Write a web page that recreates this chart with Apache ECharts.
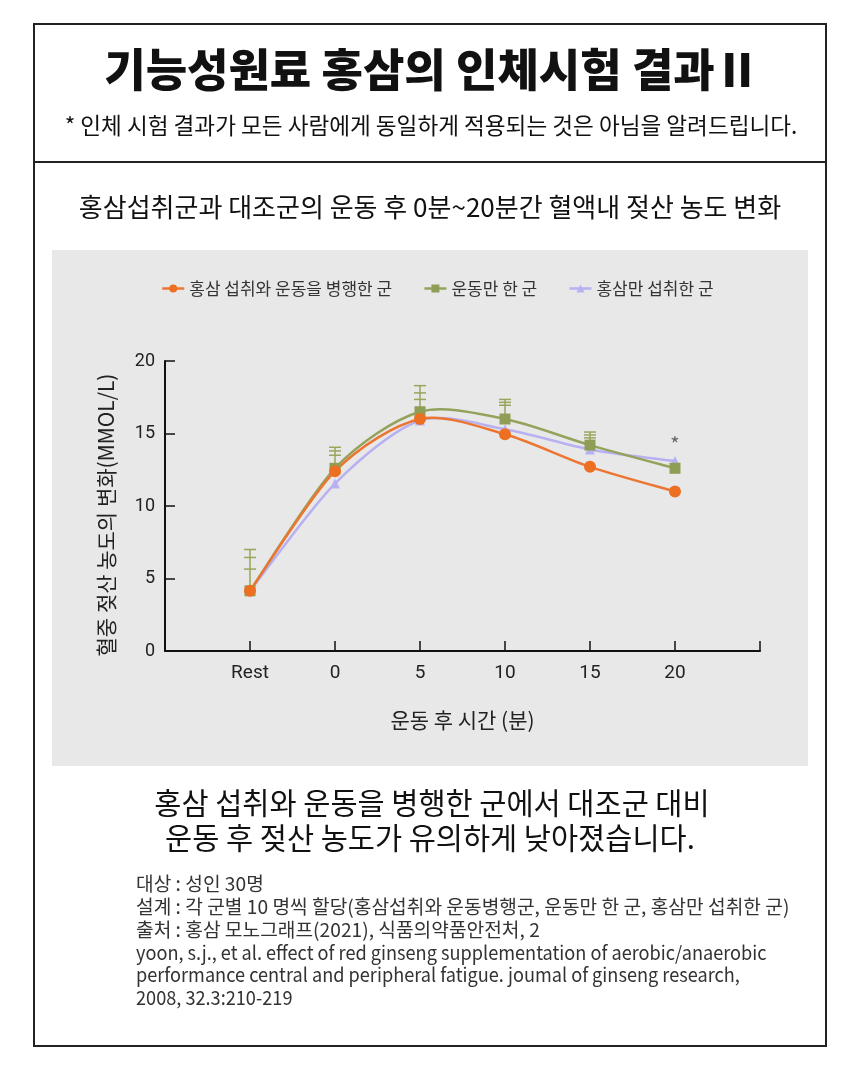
<!DOCTYPE html>
<html>
<head>
<meta charset="utf-8">
<script src="https://cdn.jsdelivr.net/npm/echarts/dist/echarts.min.js"></script>
<style>
  html, body { margin: 0; padding: 0; background: #fff; }
  #main { width: 860px; height: 1079px; }
</style>
</head>
<body>
<div id="main"></div>
<script>
// 측정 시점
var times = ['Rest', '0', '5', '10', '15', '20'];
var groupNames = ['홍삼 섭취와 운동을 병행한 군', '운동만 한 군', '홍삼만 섭취한 군'];
var groupColors = ['#ec7631', '#94a35c', '#b7b1f2'];

// 젖산 농도 (mmol/L)
var ginsengExercise = [4.15, 12.4, 16.0, 14.95, 12.7, 11.0];
var exerciseOnly = [4.15, 12.6, 16.5, 16.0, 14.2, 12.6];
var ginsengOnly = [4.15, 11.55, 15.9, 15.3, 13.9, 13.1];

// 오차막대 윗끝
var errTopA = [7.0, 14.05, 18.3, 17.35, 15.1, null];
var errTopB = [6.45, 13.8, 17.8, 17.15, 14.9, null];
var errTopC = [5.65, 13.5, 17.35, 16.95, 14.7, null];

var yTicks = [0, 5, 10, 15, 20];

var FONT = "'Noto Sans CJK KR', sans-serif";
var NUM_FONT = "Roboto, 'Noto Sans CJK KR', sans-serif";
var categories = [''].concat(times).concat(['']);

function pairs(vals) {
  return times.map(function (t, i) { return [t, vals[i]]; });
}

var errRows = [];
times.forEach(function (t, i) {
  if (errTopA[i] != null) errRows.push([t, exerciseOnly[i], errTopA[i], errTopB[i], errTopC[i]]);
});

var purpleData = pairs(ginsengOnly);
purpleData[purpleData.length - 1] = {
  value: purpleData[purpleData.length - 1],
  label: { show: true, formatter: '*', position: 'top', distance: 2, color: '#666', fontSize: 20, fontFamily: FONT }
};

var chart = echarts.init(document.getElementById('main'));

function txt(x, y, text, size, opts) {
  opts = opts || {};
  return {
    type: 'text', x: x, y: y, scaleX: opts.scaleX || 1, z: 5,
    style: {
      x: 0, y: 0, text: text, fontSize: size, fontFamily: opts.font || FONT,
      fontWeight: opts.weight || 'normal', fill: opts.color || '#111',
      align: opts.align || 'center', verticalAlign: 'middle',
      textAlign: opts.align || 'center', textVerticalAlign: 'middle'
    }
  };
}

// 엑셀식 부드러운 곡선 (Catmull-Rom), 좌표는 축 스케일로 변환
function curveSeries(vals, color, z) {
  var k = 7;
  return {
    type: 'custom',
    name: 'curve',
    z: z,
    silent: true,
    data: pairs(vals),
    renderItem: function (params, api) {
      var i = params.dataIndex;
      var n = vals.length;
      if (i >= n - 1) return;
      var P = function (j) {
        j = Math.max(0, Math.min(n - 1, j));
        return api.coord([j + 1, vals[j]]);
      };
      var p0 = P(i - 1), p1 = P(i), p2 = P(i + 1), p3 = P(i + 2);
      return {
        type: 'bezierCurve',
        shape: {
          x1: p1[0], y1: p1[1], x2: p2[0], y2: p2[1],
          cpx1: p1[0] + (p2[0] - p0[0]) / k, cpy1: p1[1] + (p2[1] - p0[1]) / k,
          cpx2: p2[0] - (p3[0] - p1[0]) / k, cpy2: p2[1] - (p3[1] - p1[1]) / k
        },
        style: { stroke: color, lineWidth: 2.5, fill: null }
      };
    }
  };
}

var notes = [
  '대상 : 성인 30명',
  '설계 : 각 군별 10 명씩 할당(홍삼섭취와 운동병행군, 운동만 한 군, 홍삼만 섭취한 군)',
  '출처 : 홍삼 모노그래프(2021), 식품의약품안전처, 2'
];
var refs = [
  'yoon, s.j., et al. effect of red ginseng supplementation of aerobic/anaerobic',
  'performance central and peripheral fatigue. joumal of ginseng research,',
  '2008, 32.3:210-219'
];

var graphics = [
  { type: 'rect', z: -1, shape: { x: 34, y: 24, width: 792, height: 1022 }, style: { fill: '#fff', stroke: '#222', lineWidth: 2 } },
  { type: 'line', z: -1, shape: { x1: 34, y1: 162, x2: 826, y2: 162 }, style: { stroke: '#222', lineWidth: 2 } },
  { type: 'rect', z: -1, shape: { x: 52, y: 250, width: 756, height: 516 }, style: { fill: '#e8e8e8' } },
  txt(432, 70, '기능성원료 홍삼의 인체시험 결과Ⅱ', 45, { weight: 900, color: '#111' }),
  txt(431, 125, '* 인체 시험 결과가 모든 사람에게 동일하게 적용되는 것은 아님을 알려드립니다.', 22.6),
  txt(430, 207, '홍삼섭취군과 대조군의 운동 후 0분~20분간 혈액내 젖산 농도 변화', 26),
  txt(432, 803, '홍삼 섭취와 운동을 병행한 군에서 대조군 대비', 29.5),
  txt(430, 838, '운동 후 젖산 농도가 유의하게 낮아졌습니다.', 29.5)
];
notes.forEach(function (s, i) {
  graphics.push(txt(136, 884 + i * 22.8, s, 19.2, { align: 'left', color: '#333' }));
});
refs.forEach(function (s, i) {
  graphics.push(txt(136, 884 + (i + 3) * 22.8, s, 19.2, { align: 'left', color: '#333', scaleX: 0.946 }));
});

var option = {
  backgroundColor: '#fff',
  animation: false,
  textStyle: { fontFamily: FONT },
  graphic: graphics,
  legend: {
    top: 275, left: 156,
    itemWidth: 22, itemHeight: 10, itemGap: 31,
    textStyle: { fontSize: 17, color: '#333', fontFamily: FONT },
    data: groupNames.map(function (name, i) {
      return { name: name, lineStyle: { color: groupColors[i], width: 2.5, opacity: 1 } };
    })
  },
  grid: { left: 165, right: 100, top: 361, bottom: 428 },
  xAxis: {
    type: 'category',
    data: categories,
    boundaryGap: false,
    name: '운동 후 시간 (분)',
    nameLocation: 'middle',
    nameGap: 59,
    nameTextStyle: { fontSize: 21, color: '#222', fontFamily: FONT },
    axisLine: { lineStyle: { color: '#111', width: 2 } },
    axisTick: { inside: true, length: 10, lineStyle: { color: '#111', width: 1.5 }, interval: 0 },
    axisLabel: { fontSize: 19, color: '#222', margin: 13, interval: 0, fontFamily: NUM_FONT },
    splitLine: { show: false }
  },
  yAxis: {
    type: 'value',
    min: yTicks[0], max: yTicks[yTicks.length - 1], interval: 5,
    name: '혈중 젖산 농도의 변화(MMOL/L)',
    nameLocation: 'middle',
    nameGap: 48,
    nameTextStyle: { fontSize: 21, color: '#222', fontFamily: FONT, padding: [0, 18, 0, 0] },
    axisLine: { show: true, lineStyle: { color: '#111', width: 2 } },
    axisTick: { show: true, inside: true, length: 10, lineStyle: { color: '#111', width: 1.5 } },
    axisLabel: { fontSize: 18, color: '#222', margin: 10, fontFamily: NUM_FONT },
    splitLine: { show: false }
  },
  series: [
    {
      type: 'custom',
      name: 'err',
      z: 1,
      data: errRows,
      renderItem: function (params, api) {
        var x = api.value(0);
        var base = api.coord([x, api.value(1)]);
        var children = [];
        var tops = [api.value(2), api.value(3), api.value(4)];
        var topPt = api.coord([x, tops[0]]);
        children.push({ type: 'line', shape: { x1: base[0], y1: base[1], x2: topPt[0], y2: topPt[1] }, style: { stroke: '#9aa55c', lineWidth: 1.5 } });
        tops.forEach(function (v) {
          var p = api.coord([x, v]);
          children.push({ type: 'line', shape: { x1: p[0] - 6, y1: p[1], x2: p[0] + 6, y2: p[1] }, style: { stroke: '#9aa55c', lineWidth: 1.5 } });
        });
        return { type: 'group', children: children };
      }
    },
    curveSeries(ginsengOnly, groupColors[2], 2),
    curveSeries(exerciseOnly, groupColors[1], 2),
    curveSeries(ginsengExercise, groupColors[0], 2),
    {
      name: groupNames[2], type: 'line', z: 3,
      data: purpleData,
      symbol: 'triangle', symbolSize: 10,
      itemStyle: { color: '#b7b1f2' },
      lineStyle: { width: 0, opacity: 0 }
    },
    {
      name: groupNames[1], type: 'line', z: 4,
      data: pairs(exerciseOnly),
      symbol: 'rect', symbolSize: 11,
      itemStyle: { color: '#8f9e57' },
      lineStyle: { width: 0, opacity: 0 }
    },
    {
      name: groupNames[0], type: 'line', z: 5,
      data: pairs(ginsengExercise),
      symbol: 'circle', symbolSize: 12,
      itemStyle: { color: '#ec6f22' },
      lineStyle: { width: 0, opacity: 0 }
    }
  ]
};

chart.setOption(option);
</script>
</body>
</html>
